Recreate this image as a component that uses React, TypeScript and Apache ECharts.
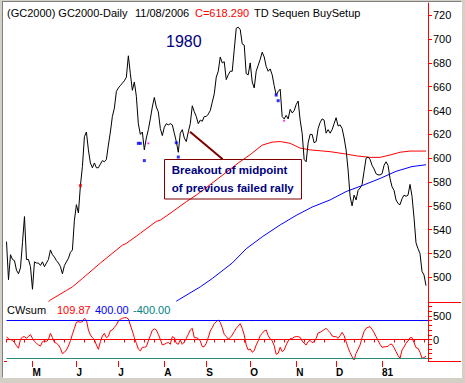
import React, { useEffect, useRef } from "react";
import * as echarts from "echarts";

const FONT = 'Arial, "Liberation Sans", Helvetica, sans-serif';

// trading-day categories (weekdays) starting Mon 14 Apr 1980
const START_DATE = "1980-04-14";
const DAY_COUNT = 212;

// daily closes
const closes: (number | null)[] = [
  530, 498, 519, 515, 514, 506, 503, 508, 529, 551,
  515, 515, 509, 490, 513, 512, 512, 510, 513, 509,
  512, 515, 523, 519, 517, 514, 512, 509, 503, 510,
  513, 516, 521, 523, 548, 561, 554, 577, 593, 618,
  622, 607, 596, 592, 596, 592, 592, 595, 598, 597,
  599, 611, 622, 635, 642, 656, 659, 661, 663, 665,
  668, 686, 671, 657, 664, 652, 629, 620, 622, 607,
  617, 624, 633, 643, 651, 643, 639, 625, 619, 626,
  629, 628, 629, 628, 621, 614, 605, 621, 624, 617,
  614, 622, 629, 644, 639, 635, 629, 632, 631, 635,
  635, 637, 640, 647, 654, 668, 673, 685, 680, 681,
  666, 670, 673, 673, 691, 709, 710, 708, 696, 695,
  671, 670, 680, 664, 659, 673, 678, 683, 689, 685,
  677, 673, 675, 670, 661, 653, 656, 658, 635, 633,
  636, 633, 641, 638, 640, 645, 648, 632, 621, 599,
  597, 613, 620, 620, 613, 614, 625, 630, 633, 632,
  621, 624, 621, 624, 629, 634, 627, 628, 625, 617,
  607, 590, 568, 560, 569, 565, 573, 575, 578, 589,
  600, 601, 599, 594, 591, 587, 586, 586, 587, 594,
  597, 594, 583, 576, 573, 565, 562, 561, 566, 569,
  568, 569, 578, 568, 550, 529, 524, 520, 505, 502,
  493, null,
];

// moving averages, [day index, value]
const maRed: [number, number][] = [
  [21, 479.5], [22, 481], [30, 489], [33, 492], [38, 499], [47, 512], [58, 527],
  [60, 528.5], [67, 537], [75, 547], [77, 548], [83, 555], [90, 563.5], [95, 569],
  [106, 583], [116, 596], [122, 603], [128, 611], [133, 613.5], [137, 614],
  [142, 612.5], [147, 608.5], [152, 607], [162, 605.5], [170, 603.5], [175, 602],
  [182, 600.7], [187, 600.7], [192, 602.7], [197, 605], [202, 606], [210, 606],
];
const maBlue: [number, number][] = [
  [85, 480], [86, 481], [97, 492], [103, 499], [113, 512], [120, 524], [128, 534],
  [137, 544], [145, 552], [153, 559], [162, 565], [170, 572], [178, 577],
  [187, 583], [195, 589], [203, 593], [210, 594.5],
];

// TD setup markers
const markRed: [number, number][] = [[37, 577]];
const markBlue: [number, number][] = [
  [66, 612.5], [67, 612.5], [69, 598], [85, 613], [86, 601], [135, 653], [136, 648.3],
];
const markMagenta: [number, number][] = [[71, 612.5], [139, 631.5]];

// CWsum oscillator
const cwsum: number[] = [
  61, 11, -3, -17, -67, -130, -185, 4, 54, 61,
  25, 68, 103, 25, -39, -81, -116, -138, -46, -24,
  -46, 4, 132, 39, -60, -81, -116, -187, -301, -272,
  -223, -138, -24, 110, 238, 366, 380, 366, 380, 451,
  415, 202, 96, 39, -3, -116, -209, -46, 75, 132,
  39, 68, 188, 202, 259, 309, 394, 429, 451, 465,
  465, 437, 309, 181, 39, -81, -202, -244, -166, -166,
  -152, -31, 82, 195, 224, 202, 110, 4, -116, -102,
  -81, -60, -102, 61, 39, -81, -102, -10, -102, -53,
  25, 110, 202, 238, 39, 39, 18, -31, -152, -152,
  -81, 39, 181, 252, 337, 380, 415, 366, 252, 110,
  61, 11, 39, 96, 167, 238, 288, 337, 238, 96,
  -116, -223, -202, -272, -237, -116, -31, 82, 132, 181,
  202, 82, 11, -24, -131, -315, -294, -166, -258, -223,
  -116, -31, 18, 18, 54, 61, 61, 46, -31, -81,
  -116, -46, -17, -67, -46, 25, 139, 153, 181, 210,
  238, 195, 146, 75, 61, 61, 25, 82, 153, 82,
  -46, -173, -280, -365, -436, -294, -209, -116, 39, 167,
  238, 259, 273, 217, 146, 61, -24, -102, -166, -159,
  -152, -145, -102, -102, -173, -258, -343, -400, -223, -159,
  -81, -31, 39, 39, -67, -173, -187, -272, -400, -386,
  -350,
];

const monthLabels = ["M", "J", "J", "A", "S", "O", "N", "D", "81"];
const priceTicks = [500, 520, 540, 560, 580, 600, 620, 640, 660, 680, 700, 720];
const cwTicks = [-400, -300, -200, -100, 0, 100, 200, 300, 400, 500, 600, 700];
const cwLabels = [0, 500];
const bandLevels = { upper: 400, lower: -400 };

function buildDates(start: string, count: number): string[] {
  const out: string[] = [];
  const d = new Date(start + "T00:00:00Z");
  while (out.length < count) {
    const wd = d.getUTCDay();
    if (wd !== 0 && wd !== 6) out.push(d.toISOString().slice(0, 10));
    d.setUTCDate(d.getUTCDate() + 1);
  }
  return out;
}

export default function App() {
  const ref = useRef<HTMLDivElement>(null);

  useEffect(() => {
    if (!ref.current) return;
    const chart = echarts.init(ref.current, null, { renderer: "svg", width: 465, height: 383 });

    const dates = buildDates(START_DATE, DAY_COUNT);
    const majorMap = new Map<number, string>();
    let k = 0;
    for (let i = 1; i < dates.length; i++) {
      if (dates[i].slice(5, 7) !== dates[i - 1].slice(5, 7) && k < monthLabels.length) {
        majorMap.set(i, monthLabels[k++]);
      }
    }
    const majors = Array.from(majorMap.keys());
    const minorSet = new Set<number>();
    minorSet.add(0);
    dates.forEach((ds, i) => {
      const wd = new Date(ds + "T00:00:00Z").getUTCDay();
      if (wd === 5 && !majors.some((m) => Math.abs(m - i) <= 2)) minorSet.add(i);
    });

    const txt = (text: string, x: number, y: number, fill: string, font: string) => ({
      type: "text",
      x,
      y,
      silent: true,
      z: 100,
      style: { text, fill, font, align: "left", verticalAlign: "middle" },
    });

    const option: any = {
      animation: false,
      backgroundColor: "transparent",
      grid: [
        { left: 6.5, right: 37, top: 3, height: 299, outerBoundsMode: "none" },
        { left: 6.5, right: 37, top: 302, height: 59, outerBoundsMode: "none" },
      ],
      xAxis: [
        { type: "category", gridIndex: 0, data: dates, boundaryGap: false, show: false },
        {
          type: "category",
          gridIndex: 1,
          data: dates,
          boundaryGap: false,
          position: "bottom",
          axisLine: { show: true, lineStyle: { color: "#ff0000", width: 1 } },
          axisTick: {
            show: true,
            interval: (i: number) => minorSet.has(i),
            length: 3,
            lineStyle: { color: "#ff0000" },
          },
          axisLabel: { show: false },
          splitLine: { show: false },
        },
        {
          type: "category",
          gridIndex: 1,
          data: dates,
          boundaryGap: false,
          position: "bottom",
          axisLine: { show: false },
          axisTick: {
            show: true,
            interval: (i: number) => majorMap.has(i),
            length: 6,
            lineStyle: { color: "#ff0000" },
          },
          axisLabel: {
            show: true,
            interval: (i: number) => majorMap.has(i),
            formatter: (_v: string, i: number) => majorMap.get(i) || "",
            align: "left",
            margin: 6,
            color: "#000000",
            fontSize: 10,
            fontWeight: "bold",
            fontFamily: FONT,
          },
          splitLine: { show: false },
        },
      ],
      yAxis: [
        {
          type: "value",
          gridIndex: 0,
          position: "right",
          min: 479.3,
          max: 730.3,
          splitLine: { show: false },
          axisLine: { show: true, lineStyle: { color: "#ff0000", width: 1 } },
          axisTick: { show: true, length: 4, lineStyle: { color: "#ff0000" }, customValues: priceTicks },
          axisLabel: {
            customValues: priceTicks,
            margin: 5,
            color: "#000000",
            fontSize: 11,
            fontFamily: FONT,
          },
        },
        {
          type: "value",
          gridIndex: 1,
          position: "right",
          min: -457.5,
          max: 798,
          splitLine: { show: false },
          axisLine: { show: true, lineStyle: { color: "#ff0000", width: 1 } },
          axisTick: { show: true, length: 4, lineStyle: { color: "#ff0000" }, customValues: cwTicks },
          axisLabel: {
            customValues: cwLabels,
            margin: 5,
            color: "#000000",
            fontSize: 11,
            fontFamily: FONT,
          },
        },
      ],
      series: [
        {
          type: "line",
          name: "MA red",
          xAxisIndex: 0,
          yAxisIndex: 0,
          data: maRed,
          showSymbol: false,
          silent: true,
          lineStyle: { color: "#ff0000", width: 1 },
          z: 2,
        },
        {
          type: "line",
          name: "MA blue",
          xAxisIndex: 0,
          yAxisIndex: 0,
          data: maBlue,
          showSymbol: false,
          silent: true,
          lineStyle: { color: "#0000ff", width: 1 },
          z: 2,
        },
        {
          type: "line",
          name: "Close",
          xAxisIndex: 0,
          yAxisIndex: 0,
          data: closes,
          showSymbol: false,
          silent: true,
          lineStyle: { color: "#000000", width: 1 },
          z: 3,
        },
        {
          type: "scatter",
          xAxisIndex: 0,
          yAxisIndex: 0,
          data: markRed,
          symbol: "rect",
          symbolSize: [3, 3],
          silent: true,
          itemStyle: { color: "#ff0000" },
          z: 4,
        },
        {
          type: "scatter",
          xAxisIndex: 0,
          yAxisIndex: 0,
          data: markBlue,
          symbol: "rect",
          symbolSize: [3, 3],
          silent: true,
          itemStyle: { color: "#0000ff" },
          z: 4,
        },
        {
          type: "scatter",
          xAxisIndex: 0,
          yAxisIndex: 0,
          data: markMagenta,
          symbol: "rect",
          symbolSize: [2, 2],
          silent: true,
          itemStyle: { color: "#ff00ff" },
          z: 4,
        },
        {
          type: "line",
          name: "CWsum",
          xAxisIndex: 1,
          yAxisIndex: 1,
          data: cwsum,
          showSymbol: false,
          silent: true,
          lineStyle: { color: "#ff0000", width: 1 },
          markLine: {
            silent: true,
            symbol: ["none", "none"],
            label: { show: false },
            lineStyle: { type: "solid", width: 1 },
            data: [
              { yAxis: bandLevels.upper, lineStyle: { color: "#0000ff", type: "solid", width: 1 } },
              { yAxis: bandLevels.lower, lineStyle: { color: "#2a8a7a", type: "solid", width: 1 } },
            ],
          },
        },
      ],
      graphic: [
        txt("(GC2000) GC2000-Daily", 7, 13.3, "#000000", `11px ${FONT}`),
        txt("11/08/2006", 135, 13.3, "#000000", `11px ${FONT}`),
        txt("C=618.290", 195, 13.3, "#ff0000", `11px ${FONT}`),
        txt("TD Sequen BuySetup", 254, 13.3, "#000000", `11px ${FONT}`),
        txt("1980", 166, 41, "#000080", `16px ${FONT}`),
        {
          type: "line",
          silent: true,
          z: 90,
          shape: { x1: 190, y1: 131.7, x2: 222.7, y2: 159.3 },
          style: { stroke: "#800000", lineWidth: 2 },
        },
        {
          type: "rect",
          silent: true,
          z: 90,
          shape: { x: 164.5, y: 159.5, width: 137, height: 39.5 },
          style: { fill: "none", stroke: "#800000", lineWidth: 1 },
        },
        txt("Breakout of midpoint", 171.7, 170.4, "#000080", `bold 11.5px ${FONT}`),
        txt("of previous failed rally", 171.7, 187.6, "#000080", `bold 11.5px ${FONT}`),
        txt("CWsum", 7, 310, "#000000", `11px ${FONT}`),
        txt("109.87", 57, 310, "#ff0000", `11px ${FONT}`),
        txt("400.00", 95, 310, "#0000ff", `11px ${FONT}`),
        txt("-400.00", 133, 310, "#008080", `11px ${FONT}`),
        {
          type: "line",
          silent: true,
          shape: { x1: 428, y1: 302.5, x2: 461, y2: 302.5 },
          style: { stroke: "#ff0000", lineWidth: 1 },
        },
        {
          type: "line",
          silent: true,
          shape: { x1: 428, y1: 361.5, x2: 461, y2: 361.5 },
          style: { stroke: "#ff0000", lineWidth: 1 },
        },
        {
          type: "line",
          silent: true,
          shape: { x1: 4, y1: 361.5, x2: 7, y2: 361.5 },
          style: { stroke: "#ff0000", lineWidth: 1 },
        },
      ],
    };

    chart.setOption(option);
    return () => chart.dispose();
  }, []);

  return (
    <div
      style={{
        position: "fixed",
        left: 0,
        top: 0,
        width: 465,
        height: 383,
        background: "#d4d0c8",
        overflow: "hidden",
      }}
    >
      <div
        style={{
          position: "absolute",
          left: 2,
          top: 1,
          width: 460,
          height: 377,
          boxSizing: "border-box",
          background: "#ffffff",
          borderTop: "1px solid #808080",
          borderLeft: "1px solid #808080",
          borderRight: "1px solid #ffffff",
          borderBottom: "1px solid #ffffff",
        }}
      />
      <div ref={ref} style={{ position: "absolute", left: 0, top: 0, width: 465, height: 383 }} />
    </div>
  );
}
